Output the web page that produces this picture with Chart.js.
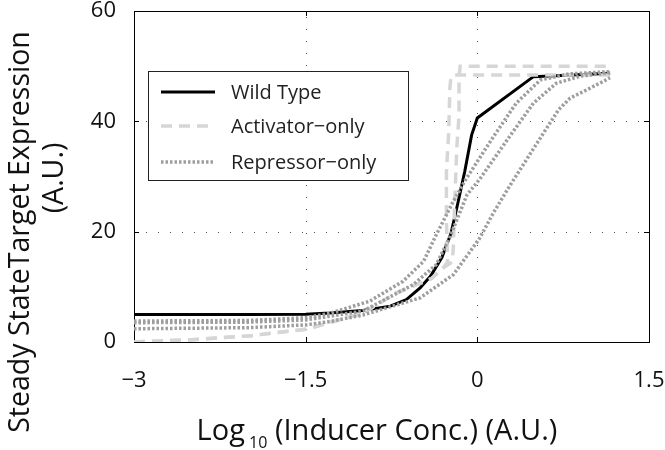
<!DOCTYPE html>
<html lang="en">
<head>
<meta charset="UTF-8">
<title>Steady State Target Expression</title>
<script src="https://cdn.jsdelivr.net/npm/chart.js"></script>
<style>
  body { margin: 0; background: #fff; }
  #wrap { width: 665px; height: 450px; }
</style>
</head>
<body>
<div id="wrap"><canvas id="chart" width="665" height="450"></canvas></div>
<script>
// x = log10 inducer, y = expression (A.U.)
const wildX = [-3, -2, -1.5, -1.29, -1, -0.76, -0.62, -0.5, -0.41, -0.31, -0.23, -0.17, -0.11, -0.05, 0, 0.49, 1.16];
const wildY = [5, 5, 5.05, 5.25, 5.7, 6.5, 7.7, 9.8, 11.9, 15.3, 19.7, 25.2, 30.9, 37.5, 40.6, 48.1, 48.7];

const act1X = [-3, -2.5, -2, -1.5, -1, -0.71, -0.4, -0.3, -0.22, -0.21, -0.2, -0.18, -0.16, -0.16, -0.15, 1.16];
const act1Y = [0, 0.4, 1.1, 2.3, 5.2, 8.9, 11.5, 13.4, 14.5, 17, 24, 35, 41, 48, 50, 50];
const act2X = [-3, -2.5, -2, -1.5, -1, -0.71, -0.4, -0.3, -0.26, -0.27, -0.27, -0.25, -0.24, -0.23, -0.2, 1.16];
const act2Y = [0, 0.4, 1.1, 2.3, 5.2, 8.9, 11.5, 13.4, 14.5, 22, 31, 38, 46, 48.1, 48.4, 48.4];

const rep1X = [-3, -2, -1.5, -1.29, -0.94, -0.65, -0.47, -0.36, -0.21, -0.1, 0.14, 0.34, 0.55, 0.8, 1.16];
const rep1Y = [3.8, 3.9, 4.4, 5.2, 7.4, 11, 14.6, 19.4, 25.5, 29.5, 37.2, 43.3, 47.5, 48.6, 49];
const rep2X = [-3, -2, -1.5, -1, -0.56, -0.36, -0.24, -0.09, 0.02, 0.28, 0.49, 0.69, 0.9, 1.16];
const rep2Y = [3.5, 3.6, 4.0, 5.6, 10.4, 14, 19, 26.7, 29.5, 37.2, 43.3, 46.9, 48.2, 48.8];
const rep3X = [-3, -2, -1.5, -1.29, -1, -0.5, -0.21, 0.02, 0.14, 0.28, 0.52, 0.71, 0.81, 1.07, 1.16];
const rep3Y = [2.4, 2.6, 3.1, 3.7, 4.9, 8, 12.2, 18.8, 23.4, 28.2, 36, 42.1, 44.2, 46.9, 47.9];

const xTicks = [-3, -1.5, 0, 1.5];
const yTicks = [0, 20, 40, 60];
const legendLabels = ['Wild Type', 'Activator\u2212only', 'Repressor\u2212only'];

const FONT = "'Open Sans', 'Noto Sans', sans-serif";
const pts = (xs, ys) => xs.map((x, i) => ({ x: x, y: ys[i] }));
const fmt = v => (v < 0 ? '\u2212' + Math.abs(v) : String(v));

const wildStyle = { borderColor: '#000', borderWidth: 3, borderDash: [] };
const actStyle = { borderColor: '#d6d6d6', borderWidth: 3.5, borderDash: [11, 7] };
const repStyle = { borderColor: '#9e9e9e', borderWidth: 3.5, borderDash: [2.5, 2] };

function line(label, data, style, order) {
  return Object.assign({ label, data, showLine: true, pointRadius: 0, tension: 0, order, borderCapStyle: 'butt' }, style);
}

// frame, dotted grid and inward ticks, matlab-style
const framePlugin = {
  id: 'frame',
  beforeDatasetsDraw(chart) {
    const { ctx, chartArea: a, scales: { x, y } } = chart;
    ctx.save();
    ctx.strokeStyle = '#555';
    ctx.lineWidth = 1;
    ctx.setLineDash([1, 11]);
    xTicks.slice(1, -1).forEach(v => {
      const px = Math.round(x.getPixelForValue(v)) + 0.5;
      ctx.beginPath(); ctx.moveTo(px, a.bottom); ctx.lineTo(px, a.top); ctx.stroke();
    });
    yTicks.slice(1, -1).forEach(v => {
      const py = Math.round(y.getPixelForValue(v)) + 0.5;
      ctx.beginPath(); ctx.moveTo(a.left, py); ctx.lineTo(a.right, py); ctx.stroke();
    });
    ctx.setLineDash([]);
    ctx.strokeStyle = '#000';
    ctx.strokeRect(Math.round(a.left) + 0.5, Math.round(a.top) + 0.5, Math.round(a.right - a.left), Math.round(a.bottom - a.top));
    const t = 5;
    xTicks.forEach(v => {
      const px = Math.round(x.getPixelForValue(v)) + 0.5;
      ctx.beginPath();
      ctx.moveTo(px, a.bottom); ctx.lineTo(px, a.bottom - t);
      ctx.moveTo(px, a.top); ctx.lineTo(px, a.top + t);
      ctx.stroke();
    });
    yTicks.forEach(v => {
      const py = Math.round(y.getPixelForValue(v)) + 0.5;
      ctx.beginPath();
      ctx.moveTo(a.left, py); ctx.lineTo(a.left + t, py);
      ctx.moveTo(a.right, py); ctx.lineTo(a.right - t, py);
      ctx.stroke();
    });
    ctx.restore();
  }
};

// legend box and axis titles
const textPlugin = {
  id: 'texts',
  afterDraw(chart) {
    const { ctx } = chart;
    ctx.save();
    // legend
    ctx.fillStyle = '#fff';
    ctx.fillRect(148, 71, 261, 110);
    ctx.strokeStyle = '#222';
    ctx.lineWidth = 1;
    ctx.strokeRect(148.5, 71.5, 260, 109);
    const styles = [wildStyle, actStyle, repStyle];
    const rowY = [92, 126, 162];
    legendLabels.forEach((lab, i) => {
      const s = styles[i];
      ctx.strokeStyle = s.borderColor;
      ctx.lineWidth = s.borderWidth;
      ctx.setLineDash(s.borderDash);
      ctx.beginPath(); ctx.moveTo(161, rowY[i]); ctx.lineTo(215, rowY[i]); ctx.stroke();
      ctx.setLineDash([]);
      ctx.fillStyle = '#222';
      ctx.font = '20px ' + FONT;
      ctx.textAlign = 'left';
      ctx.textBaseline = 'middle';
      ctx.fillText(lab, 231, rowY[i] + 1);
    });
    // x title with subscript
    ctx.fillStyle = '#111';
    ctx.textBaseline = 'alphabetic';
    ctx.font = '29px ' + FONT;
    const a = 'Log', b = ' (Inducer Conc.) (A.U.)';
    const wa = ctx.measureText(a).width;
    ctx.font = '16px ' + FONT;
    const ws = ctx.measureText(' 10').width;
    ctx.font = '29px ' + FONT;
    const wb = ctx.measureText(b).width;
    let x0 = 377 - (wa + ws + wb) / 2;
    ctx.fillText(a, x0, 440);
    ctx.font = '16px ' + FONT;
    ctx.fillText(' 10', x0 + wa, 448);
    ctx.font = '29px ' + FONT;
    ctx.fillText(b, x0 + wa + ws, 440);
    // y title, two lines
    ctx.font = '28.5px ' + FONT;
    ctx.textAlign = 'center';
    ctx.textBaseline = 'middle';
    ctx.save();
    ctx.translate(21, 232); ctx.rotate(-Math.PI / 2);
    ctx.fillText('Steady StateTarget Expression', 0, 0);
    ctx.restore();
    ctx.save();
    ctx.translate(55, 178); ctx.rotate(-Math.PI / 2);
    ctx.fillText('(A.U.)', 0, 0);
    ctx.restore();
    ctx.restore();
  }
};

new Chart(document.getElementById('chart'), {
  type: 'scatter',
  data: {
    datasets: [
      line(legendLabels[2], pts(rep1X, rep1Y), repStyle, 0),
      line(legendLabels[2], pts(rep2X, rep2Y), repStyle, 0),
      line(legendLabels[2], pts(rep3X, rep3Y), repStyle, 0),
      line(legendLabels[1], pts(act1X, act1Y), actStyle, 1),
      line(legendLabels[1], pts(act2X, act2Y), actStyle, 1),
      line(legendLabels[0], pts(wildX, wildY), wildStyle, 2)
    ]
  },
  options: {
    responsive: false,
    animation: false,
    layout: { padding: { top: 11, right: 16, left: 0, bottom: 0 } },
    plugins: { legend: { display: false }, tooltip: { enabled: false } },
    scales: {
      x: {
        type: 'linear', min: -3, max: 1.5,
        afterFit: s => { s.height = 108; s.paddingLeft = 0; s.paddingRight = 0; },
        afterBuildTicks: s => { s.ticks = xTicks.map(v => ({ value: v })); },
        grid: { display: false },
        border: { display: false },
        ticks: { color: '#111', padding: 18, font: { family: FONT, size: 22 }, callback: fmt, maxRotation: 0 }
      },
      y: {
        min: 0, max: 60,
        afterFit: s => { s.width = 134; s.paddingTop = 0; s.paddingBottom = 0; },
        afterBuildTicks: s => { s.ticks = yTicks.map(v => ({ value: v })); },
        grid: { display: false },
        border: { display: false },
        ticks: { color: '#111', padding: 10, font: { family: FONT, size: 22 }, callback: fmt }
      }
    }
  },
  plugins: [framePlugin, textPlugin]
});
</script>
</body>
</html>
